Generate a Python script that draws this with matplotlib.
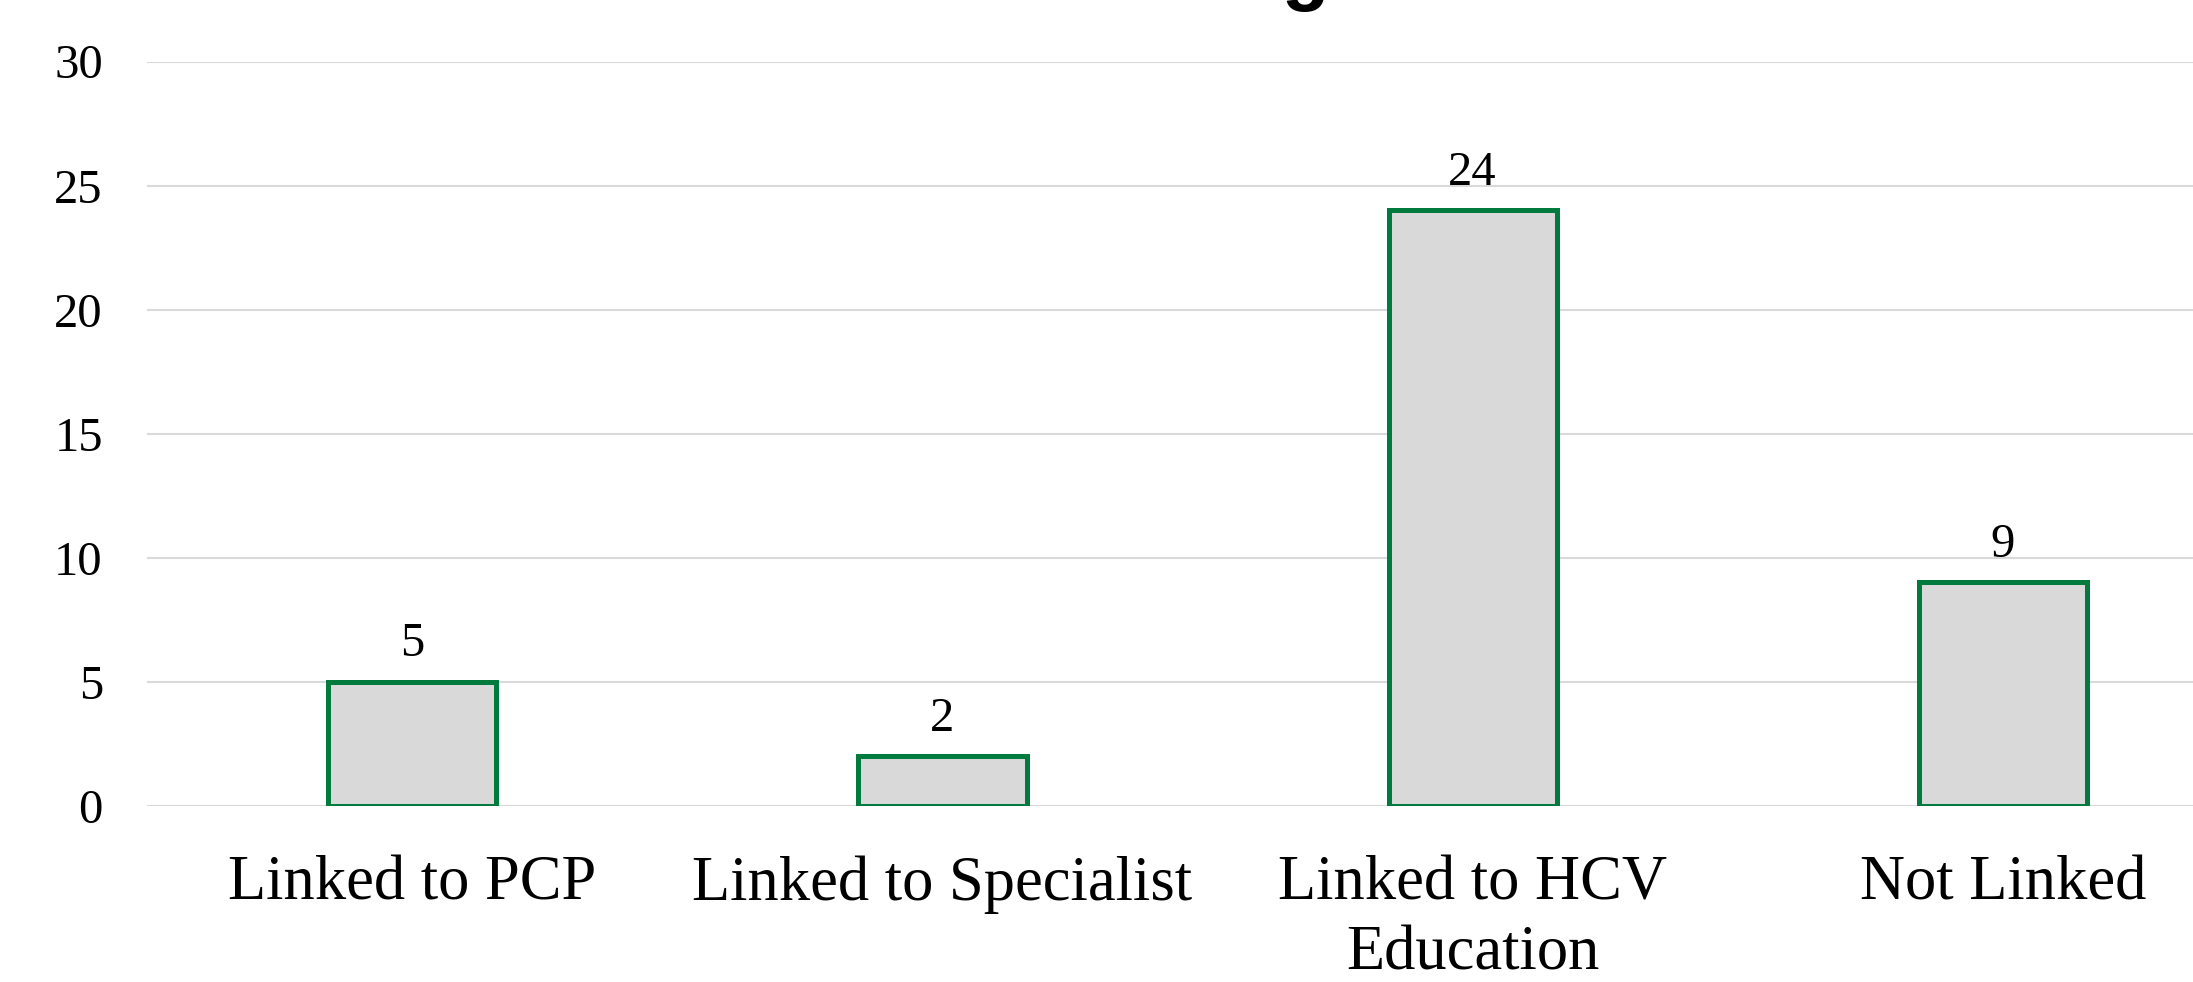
import matplotlib
matplotlib.use("Agg")
import matplotlib.pyplot as plt

categories = ["Linked to PCP", "Linked to Specialist", "Linked to HCV\nEducation", "Not Linked"]
values = [5, 2, 24, 9]
yticks = [0, 5, 10, 15, 20, 25, 30]
title = "Patient Linkage to Care"

W, H = 2193, 982
fig = plt.figure(figsize=(W / 100, H / 100), dpi=100)
left, right = 147.3, 2267.8
bottom, top = 805.6, 61.5
ax = fig.add_axes([left / W, 1 - bottom / H, (right - left) / W, (bottom - top) / H])

serif = ["Liberation Serif", "DejaVu Serif"]

x = list(range(len(categories)))
bars = ax.bar(x, values, width=0.317, color="#D9D9D9", edgecolor="#007A3D",
              linewidth=3.6, zorder=3)
ax.set_xlim(-0.5, len(categories) - 0.5)
ax.set_ylim(0, 30)
ax.set_yticks(yticks)
ax.set_yticklabels([str(t) for t in yticks], fontfamily=serif, fontsize=35)
ax.set_xticks(x)
ax.set_xticklabels(categories, fontfamily=serif, fontsize=45, linespacing=1.27)
ax.tick_params(axis="y", length=0, pad=32)
ax.tick_params(axis="x", length=0, pad=36)
ax.grid(axis="y", color="#D9D9D9", linewidth=1.5, zorder=0)
ax.set_axisbelow(True)
for s in ax.spines.values():
    s.set_visible(False)

for b, v in zip(bars, values):
    ax.annotate(str(v), (b.get_x() + b.get_width() / 2, v), xytext=(0, 11),
                textcoords="offset points", ha="center", va="bottom",
                fontfamily=serif, fontsize=35)

fig.text(1230 / W, 1 + 4 / H, title, ha="center", va="baseline",
         fontfamily=["Liberation Sans", "DejaVu Sans"], fontweight="bold", fontsize=56)

fig.savefig("out.png", dpi=100)
